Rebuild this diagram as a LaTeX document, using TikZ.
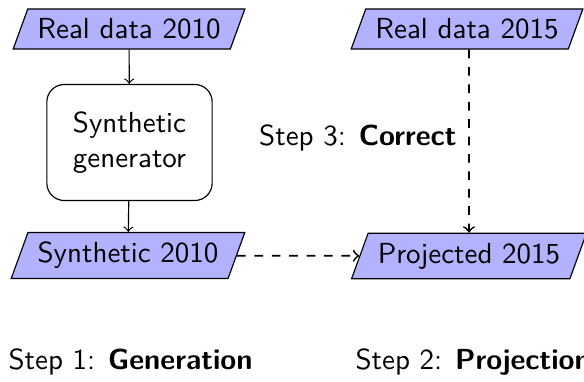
\documentclass[tikz,border=0pt]{standalone}
\usetikzlibrary{shapes.geometric}
\begin{document}
\begin{tikzpicture}[x=0.3448pt,y=-0.3448pt,
  font=\sffamily,
  dataset/.style={trapezium, trapezium left angle=70, trapezium right angle=110,
    draw, fill=blue!30, inner sep=3.33pt},
  procbox/.style={draw, rounded corners=6pt, align=center,
    minimum width=57pt, minimum height=40pt},
  flow/.style={->},
  dflow/.style={->, dashed, semithick}]
  \useasboundingbox (0,0) rectangle (584,381);
  % step 1: generation
  \node[dataset] (r10) at (129,29) {Real data 2010};
  \node[procbox] (gen) at (129.5,142.5) {Synthetic\\generator};
  \node[dataset] (s10) at (128,255.5) {Synthetic 2010};
  % step 2 and 3: projection and correction
  \node[dataset] (r15) at (467,29) {Real data 2015};
  \node[dataset] (p15) at (469,256) {Projected 2015};
  \draw[flow] (r10) -- (gen);
  \draw[flow] (gen) -- (s10);
  \draw[dflow] (s10) -- (p15);
  \draw[dflow] (r15.south -| p15) -- (p15) node[midway, left, inner sep=4pt, yshift=1pt] {Step 3: \textbf{Correct}};
  % step captions
  \node[anchor=west, inner sep=0pt] (c1) at (8,362) {Step 1: \textbf{Generation}};
  \node[anchor=west, inner sep=0pt] (c2) at (355,362) {Step 2: \textbf{Projection}};
\end{tikzpicture}
\end{document}
